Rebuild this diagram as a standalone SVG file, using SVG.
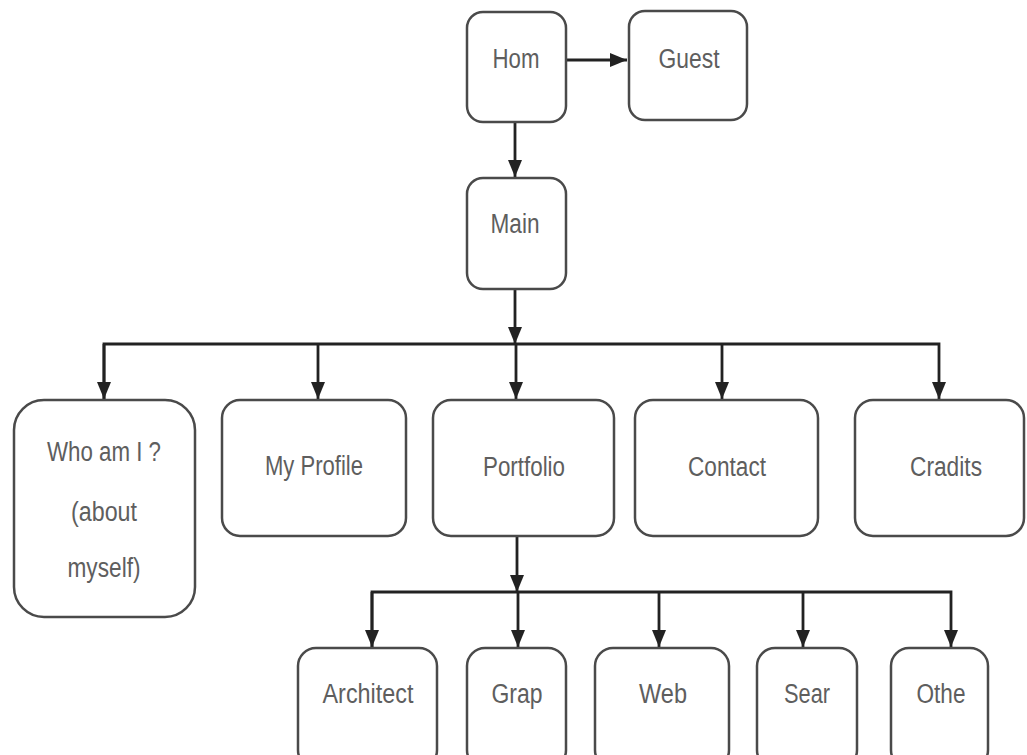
<svg xmlns="http://www.w3.org/2000/svg" width="1027" height="755" viewBox="0 0 1027 755">
<style>
.box{fill:#fff;stroke:#4a4a4a;stroke-width:2.5}
.lbl{font-family:"Liberation Sans Narrow","Liberation Sans",Arial,sans-serif;font-size:27px;fill:#5e5e5e;text-anchor:middle}
.con{fill:none;stroke:#222;stroke-width:2.8}
</style>
<defs>
<marker id="ah" markerUnits="userSpaceOnUse" markerWidth="18" markerHeight="15" refX="17" refY="7" orient="auto">
<path d="M0,0 L17,7 L0,14 z" fill="#222"/>
</marker>
</defs>
<rect width="1027" height="755" fill="#fff"/>
<g id="connectors">
<line class="con" x1="566" y1="60" x2="627" y2="60" marker-end="url(#ah)"/>
<line class="con" x1="515" y1="122" x2="515" y2="177" marker-end="url(#ah)"/>
<line class="con" x1="515" y1="289" x2="515" y2="344" marker-end="url(#ah)"/>
<polyline class="con" points="104,399 104,344 939,344 939,399" marker-end="url(#ah)"/>
<line class="con" x1="104" y1="344" x2="104" y2="399" marker-end="url(#ah)"/>
<line class="con" x1="318" y1="344" x2="318" y2="399" marker-end="url(#ah)"/>
<line class="con" x1="516" y1="344" x2="516" y2="399" marker-end="url(#ah)"/>
<line class="con" x1="722" y1="344" x2="722" y2="399" marker-end="url(#ah)"/>
<line class="con" x1="517" y1="536" x2="517" y2="592" marker-end="url(#ah)"/>
<polyline class="con" points="372,647 372,592 951,592 951,647" marker-end="url(#ah)"/>
<line class="con" x1="372" y1="592" x2="372" y2="647" marker-end="url(#ah)"/>
<line class="con" x1="518" y1="592" x2="518" y2="647" marker-end="url(#ah)"/>
<line class="con" x1="659" y1="592" x2="659" y2="647" marker-end="url(#ah)"/>
<line class="con" x1="803" y1="592" x2="803" y2="647" marker-end="url(#ah)"/>
</g>
<g id="hom"><rect class="box" x="467" y="12" width="99" height="110" rx="16"/><text class="lbl" x="516" y="68" textLength="47" lengthAdjust="spacingAndGlyphs">Hom</text></g>
<g id="guest"><rect class="box" x="629" y="11" width="118" height="109" rx="16"/><text class="lbl" x="689" y="68" textLength="61" lengthAdjust="spacingAndGlyphs">Guest</text></g>
<g id="main"><rect class="box" x="467" y="178" width="99" height="111" rx="16"/><text class="lbl" x="515" y="233" textLength="49" lengthAdjust="spacingAndGlyphs">Main</text></g>
<g id="who"><rect class="box" x="14" y="400" width="181" height="217" rx="30"/>
<text class="lbl" x="104" y="461" textLength="114" lengthAdjust="spacingAndGlyphs">Who am I ?</text>
<text class="lbl" x="104" y="521" textLength="66" lengthAdjust="spacingAndGlyphs">(about</text>
<text class="lbl" x="104" y="577" textLength="73" lengthAdjust="spacingAndGlyphs">myself)</text></g>
<g id="profile"><rect class="box" x="222" y="400" width="184" height="136" rx="18"/><text class="lbl" x="314" y="475" textLength="98" lengthAdjust="spacingAndGlyphs">My Profile</text></g>
<g id="portfolio"><rect class="box" x="433" y="400" width="181" height="136" rx="18"/><text class="lbl" x="524" y="476" textLength="82" lengthAdjust="spacingAndGlyphs">Portfolio</text></g>
<g id="contact"><rect class="box" x="635" y="400" width="183" height="136" rx="18"/><text class="lbl" x="727" y="476" textLength="78" lengthAdjust="spacingAndGlyphs">Contact</text></g>
<g id="cradits"><rect class="box" x="855" y="400" width="169" height="136" rx="18"/><text class="lbl" x="946" y="476" textLength="72" lengthAdjust="spacingAndGlyphs">Cradits</text></g>
<g id="architect"><rect class="box" x="298" y="648" width="139" height="120" rx="18"/><text class="lbl" x="368" y="703" textLength="91" lengthAdjust="spacingAndGlyphs">Architect</text></g>
<g id="grap"><rect class="box" x="467" y="648" width="99" height="120" rx="18"/><text class="lbl" x="517" y="703" textLength="51" lengthAdjust="spacingAndGlyphs">Grap</text></g>
<g id="web"><rect class="box" x="595" y="648" width="134" height="120" rx="18"/><text class="lbl" x="663" y="703" textLength="48" lengthAdjust="spacingAndGlyphs">Web</text></g>
<g id="sear"><rect class="box" x="757" y="648" width="100" height="120" rx="18"/><text class="lbl" x="807" y="703" textLength="46" lengthAdjust="spacingAndGlyphs">Sear</text></g>
<g id="othe"><rect class="box" x="891" y="648" width="97" height="120" rx="18"/><text class="lbl" x="941" y="703" textLength="49" lengthAdjust="spacingAndGlyphs">Othe</text></g>
</svg>
